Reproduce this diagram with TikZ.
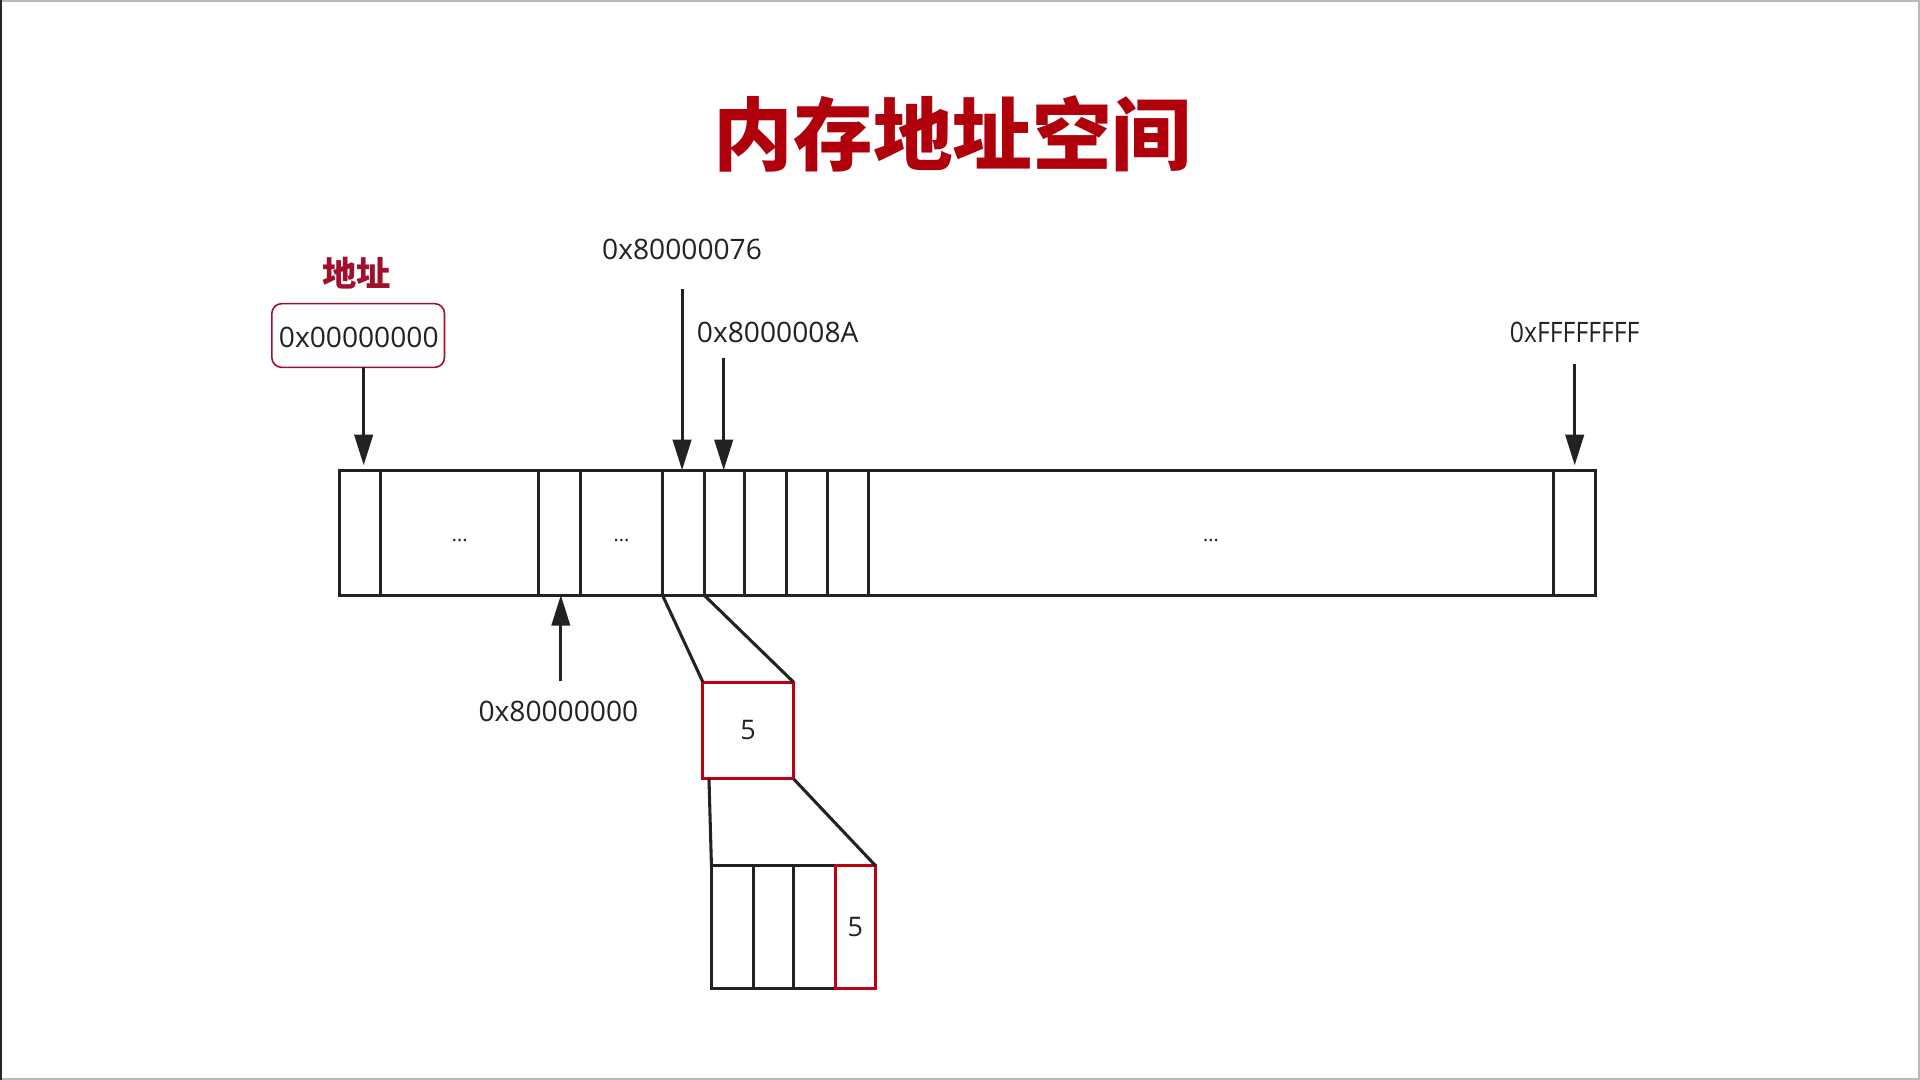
\documentclass[tikz,border=0pt]{standalone}
\usepackage{fontspec}
\setmainfont{Open Sans}
\newfontfamily\cjk{Noto Sans CJK SC}
\usetikzlibrary{arrows.meta}
\definecolor{titred}{HTML}{B0000C}
\definecolor{boxred}{HTML}{A0102C}
\definecolor{cellred}{HTML}{C00010}
\definecolor{ink}{HTML}{222222}
\tikzset{
  cell/.style={draw=ink, line width=2.5pt, inner sep=0pt, outer sep=0pt, minimum height=102pt},
  redcell/.style={draw=cellred, line width=2.5pt, inner sep=0pt, outer sep=0pt},
  lbl/.style={inner sep=0pt, font=\fontsize{23}{26}\selectfont, text=ink, anchor=base},
  arr/.style={draw=ink, line width=2.5pt, -{Triangle[length=25pt,width=15pt]}},
  link/.style={draw=ink, line width=2.5pt},
  dots/.style={inner sep=0pt, font=\fontsize{16}{18}\selectfont, text=ink}
}
\begin{document}
\begin{tikzpicture}[x=1pt,y=-1pt]
\useasboundingbox (0,0) rectangle (1568,882);
\fill[white] (0,0) rectangle (1568,882);
\draw[gray!55, line width=1.5pt] (0.75,0.75) rectangle (1567.25,881.25);
\draw[black!85, line width=2pt] (1,0) -- (1,882);
% title
\node[inner sep=0pt, anchor=base, text=titred, font=\cjk\bfseries\fontsize{65}{70}\selectfont] (title) at (778,134) {内存地址空间};
\node[inner sep=0pt, anchor=base, text=boxred, font=\cjk\bfseries\fontsize{28}{32}\selectfont] (addr) at (291,234) {地址};
% main bar cells
\foreach \i/\a/\b in {1/277/311, 2/311/440, 3/440/474, 4/474/541, 5/541/575, 6/575/608, 7/608/642, 8/642/676, 9/676/709, 10/709/1269, 11/1269/1303}{
  \pgfmathsetmacro{\w}{\b-\a}
  \pgfmathsetmacro{\c}{(\a+\b)/2}
  \node[cell, minimum width=\w pt] (c\i) at (\c,435) {};
}
\node[dots] (d1) at ([yshift=-6pt]c2.center) {...};
\node[dots] (d2) at ([yshift=-6pt]c4.center) {...};
\node[dots] (d3) at ([yshift=-6pt]c10.center) {...};
% address box
\node[draw=boxred, line width=1.3pt, rounded corners=8pt, minimum width=141pt, minimum height=52pt, inner sep=0pt] (a0) at (292.5,274) {};
\node[lbl] (t0) at (293,284) {0x00000000};
\coordinate (s0) at (297,300);
\coordinate (e0) at (297,380);
\draw[arr] (s0) -- (e0);
% 0x80000076
\node[lbl] (t1) at (557,212) {0x80000076};
\coordinate (s1) at (557,236);
\draw[arr] (s1) -- (c5.north -| s1);
% 0x8000008A
\node[lbl, anchor=base west] (t2) at (569,280) {0x8000008A};
\coordinate (s2) at (591,292);
\draw[arr] (s2) -- (c6.north -| s2);
% 0xFFFFFFFF
\node[lbl] (t3) at (1286,280) {\scalebox{0.88}[1]{0xFFFFFFFF}};
\coordinate (s3) at (1286,297);
\coordinate (e3) at (1286,380);
\draw[arr] (s3) -- (e3);
% 0x80000000
\node[lbl] (t4) at (456,589) {0x80000000};
\coordinate (s4) at (458,556);
\draw[arr] (s4) -- (c3.south -| s4);
% zoomed byte
\node[redcell, minimum width=74pt, minimum height=79pt] (z) at (611,596.5) {};
\node[inner sep=0pt, font=\fontsize{22}{24}\selectfont, text=ink] (z5) at (z) {5};
\draw[link] (c5.south west) -- (z.north west);
\draw[link] (c5.south east) -- (z.north east);
% bottom cells
\foreach \i/\a/\b in {1/581/615, 2/615/648, 3/648/682}{
  \pgfmathsetmacro{\w}{\b-\a}
  \pgfmathsetmacro{\c}{(\a+\b)/2}
  \node[cell, minimum width=\w pt, minimum height=100pt] (b\i) at (\c,757) {};
}
\node[redcell, minimum width=33pt, minimum height=100pt] (b4) at (698.5,757) {};
\node[inner sep=0pt, font=\fontsize{22}{24}\selectfont, text=ink] (b5) at (b4) {5};
\draw[link] ([xshift=5pt]z.south west) -- (b1.north west);
\draw[link] (z.south east) -- (b4.north east);
\end{tikzpicture}
\end{document}
